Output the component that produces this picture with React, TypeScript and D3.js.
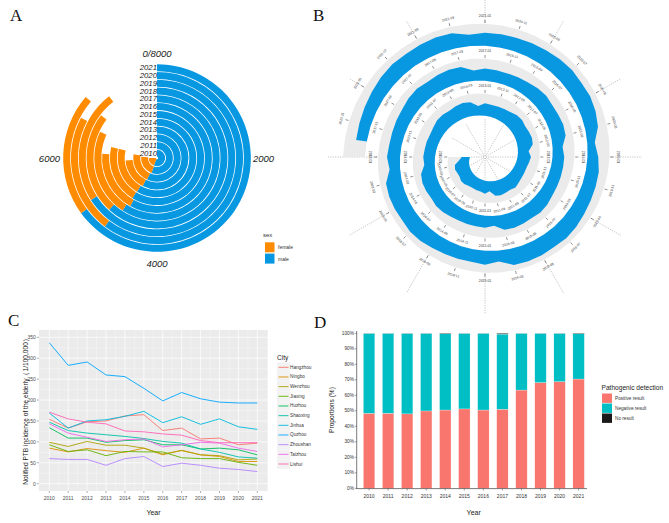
import * as d3 from "d3";

// ---------- data ----------
const years = ["2010", "2011", "2012", "2013", "2014", "2015", "2016", "2017", "2018", "2019", "2020", "2021"];

// A: notified cases by sex
const maleCases = [4500, 4450, 4550, 4600, 4680, 4700, 4650, 4740, 4950, 5280, 4830, 5200];
const femaleCases = [1500, 1650, 1650, 1300, 1620, 1600, 1450, 1810, 1880, 1880, 1790, 1700];
const polarTicks = ["0/8000", "2000", "4000", "6000"];

// B: monthly cases (spiral)
const monthly2010 = [330, 420, 590, 610, 560, 540, 580, 560, 500, 470, 480, 470];
const monthly2011 = [520, 400, 600, 620, 580, 560, 600, 540, 500, 480, 470, 500];
const monthly2012 = [540, 430, 620, 640, 610, 580, 620, 600, 530, 500, 490, 480];
const monthly2013 = [500, 380, 560, 600, 580, 540, 570, 560, 500, 460, 470, 460];
const monthly2014 = [470, 420, 590, 620, 600, 560, 590, 570, 520, 490, 480, 470];
const monthly2015 = [480, 390, 600, 630, 600, 580, 610, 580, 520, 500, 490, 480];
const monthly2016 = [470, 400, 580, 600, 570, 550, 590, 560, 510, 490, 470, 480];
const monthly2017 = [490, 410, 620, 640, 620, 590, 630, 600, 540, 520, 500, 490];
const monthly2018 = [520, 420, 640, 660, 650, 620, 660, 630, 570, 540, 520, 510];
const monthly2019 = [560, 440, 660, 680, 670, 640, 670, 640, 590, 560, 540, 520];
const monthly2020 = [430, 300, 520, 600, 640, 620, 650, 620, 580, 560, 540, 530];
const monthly2021 = [520, 450, 620, 640, 620, 600, 620, 590, 540, 500, 460, 430];
const monthNames = ["01", "02", "03", "04", "05", "06", "07", "08", "09", "10", "11", "12"];

// C: notified incidence per city
const cities = ["Hangzhou", "Ningbo", "Wenzhou", "Jiaxing", "Huzhou", "Shaoxing", "Jinhua", "Quzhou", "Zhoushan", "Taizhou", "Lishui"];
const hangzhou = [154, 133, 148, 150, 162, 165, 127, 133, 107, 109, 93, 97];
const ningbo = [85, 76, 84, 79, 75, 85, 69, 80, 69, 65, 53, 53];
const wenzhou = [99, 89, 101, 92, 92, 85, 71, 79, 69, 67, 57, 59];
const jiaxing = [93, 77, 81, 67, 77, 76, 76, 62, 60, 60, 51, 44];
const huzhou = [134, 109, 109, 99, 103, 105, 93, 93, 83, 85, 81, 69];
const shaoxing = [147, 127, 121, 117, 113, 108, 101, 97, 83, 75, 64, 61];
const jinhua = [169, 133, 150, 153, 161, 173, 146, 160, 142, 155, 136, 130];
const quzhou = [337, 283, 291, 260, 256, 228, 198, 218, 203, 195, 193, 193];
const zhoushan = [60, 58, 58, 44, 60, 65, 41, 49, 44, 37, 34, 29];
const taizhou = [143, 121, 111, 101, 105, 107, 88, 93, 99, 97, 85, 77];
const lishui = [171, 155, 147, 143, 126, 124, 119, 116, 103, 98, 98, 98];
const cityColors = ["#F8766D", "#DB8E00", "#AEA200", "#64B200", "#00BD5C", "#00C1A7", "#00BADE", "#00A6FF", "#B385FF", "#EF67EB", "#FF63B6"];
const incidenceTicks = [0, 50, 100, 150, 200, 250, 300, 350];

// D: pathogenic detection share (%)
const positiveShare = [48.4, 48.4, 48.0, 49.9, 50.5, 51.2, 50.5, 51.0, 63.4, 68.2, 68.8, 70.5];
const noResultShare = [0.1, 0.1, 0.1, 0.1, 0.3, 0.1, 0.1, 0.5, 0.1, 0.1, 0.1, 0.3];
const detectionLabels = ["Positive result", "Negative result", "No result"];
const detectionColors = ["#F8766D", "#00BFC4", "#1A1A1A"];

const SANS = "'Liberation Sans', Arial, sans-serif";
const SERIF = "'Liberation Serif', 'Times New Roman', serif";
const BLUE = "#0898E2";
const ORANGE = "#FF8C00";

// ---------- panel A ----------
function PanelA() {
	const cx = 157;
	const cy = 158;
	const r = d3.scaleLinear().domain([0.4, 12.6]).range([0, 95]);
	const ang = d3.scaleLinear().domain([0, 8000]).range([0, 2 * Math.PI]);
	const arc = d3.arc();
	return (
		<g>
			<g transform={`translate(${cx},${cy})`}>
				{years.map((y, i) => {
					const ir = r(i + 1 - 0.45);
					const or = r(i + 1 + 0.45);
					const m = maleCases[i];
					const total = m + femaleCases[i];
					return (
						<g key={y}>
							<path d={arc({ innerRadius: ir, outerRadius: or, startAngle: 0, endAngle: ang(m) }) || ""} fill={BLUE} />
							<path d={arc({ innerRadius: ir, outerRadius: or, startAngle: ang(m), endAngle: ang(total) }) || ""} fill={ORANGE} />
						</g>
					);
				})}
				{years.map((y, i) => (
					<text key={y} x={0} y={-r(i + 1)} textAnchor="end" dominantBaseline="central" fontSize={7.8} fontStyle="italic" fill="#1a1a1a">
						{y}
					</text>
				))}
			</g>
			<text x={cx} y={53} textAnchor="middle" dominantBaseline="central" fontSize={9.5} fontStyle="italic" fill="#222">{polarTicks[0]}</text>
			<text x={253} y={158} textAnchor="start" dominantBaseline="central" fontSize={9.5} fontStyle="italic" fill="#222">{polarTicks[1]}</text>
			<text x={cx} y={263} textAnchor="middle" dominantBaseline="central" fontSize={9.5} fontStyle="italic" fill="#222">{polarTicks[2]}</text>
			<text x={60} y={158} textAnchor="end" dominantBaseline="central" fontSize={9.5} fontStyle="italic" fill="#222">{polarTicks[3]}</text>
			{/* legend */}
			<text x={263} y={235} fontSize={6} dominantBaseline="central" fill="#333">sex</text>
			<rect x={265} y={242.3} width={9.5} height={10} fill={ORANGE} />
			<text x={278} y={247.3} fontSize={5} dominantBaseline="central" fill="#333">female</text>
			<rect x={265} y={253.6} width={9.5} height={10} fill={BLUE} />
			<text x={278} y={258.6} fontSize={5} dominantBaseline="central" fill="#333">male</text>
		</g>
	);
}

// ---------- panel B ----------
interface SpiralPt {
	a: number;
	r0: number;
	r1: number;
}

function PanelB() {
	const cx = 485;
	const cy = 157;
	const monthly = [
		monthly2010, monthly2011, monthly2012, monthly2013, monthly2014, monthly2015,
		monthly2016, monthly2017, monthly2018, monthly2019, monthly2020, monthly2021,
	].flat();
	const perTurn = 48;
	const base = (t: number) => 15 + 35 * t;
	const angle = (t: number) => ((270 - 360 * t) * Math.PI) / 180;
	const thick = d3.scaleLinear().domain([0, 880]).range([0, 22]);

	const area = d3
		.areaRadial<SpiralPt>()
		.angle((d) => d.a)
		.innerRadius((d) => d.r0)
		.outerRadius((d) => d.r1);

	const track: SpiralPt[] = d3.range(0, 3 * perTurn + 1).map((k) => {
		const t = k / perTurn;
		return { a: angle(t), r0: base(t), r1: base(t) + 22 };
	});
	const band: SpiralPt[] = monthly.map((v, m) => {
		const t = m / perTurn;
		return { a: angle(t), r0: base(t), r1: base(t) + thick(v) };
	});

	const spokes = d3.range(0, 360, 30);
	const labelMonths = monthly.map((_, m) => m).filter((m) => m % 2 === 0);

	return (
		<g transform={`translate(${cx},${cy})`}>
			{spokes.map((deg) => {
				const rad = (deg * Math.PI) / 180;
				const t0 = (((270 - deg) % 360) + 360) % 360 / 360;
				const rIn = Math.min(base(t0) - 1, 38);
				const rOut0 = base(2 + t0) + 23;
				const sx = Math.sin(rad);
				const sy = -Math.cos(rad);
				return (
					<g key={deg} stroke="#8a8a8a" strokeWidth={0.5} strokeDasharray="1.2,1.2">
						<line x1={sx * 3} y1={sy * 3} x2={sx * rIn} y2={sy * rIn} />
						<line x1={sx * rOut0} y1={sy * rOut0} x2={sx * 157} y2={sy * 157} />
					</g>
				);
			})}
			<circle r={1.6} fill="none" stroke="#777" strokeWidth={0.4} />
			<path d={area(track) || ""} fill="#EBEBEB" />
			<path d={area(band) || ""} fill={BLUE} />
			{labelMonths.map((m) => {
				const t = m / perTurn;
				const a = 270 - 360 * t;
				const rad = (a * Math.PI) / 180;
				const sx = Math.sin(rad);
				const sy = -Math.cos(rad);
				const rt0 = base(t) + 22.8;
				const rt1 = base(t) + 25.8;
				const rl = base(t) + 30;
				const norm = ((a % 360) + 360) % 360;
				const rot = norm <= 90 || norm > 270 ? norm : norm - 180;
				const label = `${years[Math.floor(m / 12)]}-${monthNames[m % 12]}`;
				return (
					<g key={m}>
						<line x1={sx * rt0} y1={sy * rt0} x2={sx * rt1} y2={sy * rt1} stroke="#222" strokeWidth={0.5} />
						<text
							transform={`translate(${sx * rl},${sy * rl}) rotate(${rot})`}
							textAnchor="middle"
							dominantBaseline="central"
							fontSize={3.4}
							fill="#333"
						>
							{label}
						</text>
					</g>
				);
			})}
		</g>
	);
}

// ---------- panel C ----------
function PanelC() {
	const series = [hangzhou, ningbo, wenzhou, jiaxing, huzhou, shaoxing, jinhua, quzhou, zhoushan, taizhou, lishui];
	const yearVals = years.map(Number);
	const x = d3.scaleLinear().domain([2010, 2021]).range([49.3, 257.3]);
	const y = d3.scaleLinear().domain([-17.5, 367.5]).range([491, 330]);
	const left = x(2009.45);
	const right = x(2021.55);
	const line = d3
		.line<number>()
		.x((_, i) => x(yearVals[i]))
		.y((d) => y(d));
	const minorY = incidenceTicks.slice(0, -1).map((v, i) => (v + incidenceTicks[i + 1]) / 2);
	const minorX = yearVals.slice(0, -1).map((v) => v + 0.5);
	return (
		<g>
			<rect x={left} y={330} width={right - left} height={161} fill="#EBEBEB" />
			{minorY.map((v) => (
				<line key={`my${v}`} x1={left} x2={right} y1={y(v)} y2={y(v)} stroke="#fff" strokeWidth={0.3} />
			))}
			{minorX.map((v) => (
				<line key={`mx${v}`} x1={x(v)} x2={x(v)} y1={330} y2={491} stroke="#fff" strokeWidth={0.3} />
			))}
			{incidenceTicks.map((v) => (
				<line key={`y${v}`} x1={left} x2={right} y1={y(v)} y2={y(v)} stroke="#fff" strokeWidth={0.7} />
			))}
			{yearVals.map((v) => (
				<line key={`x${v}`} x1={x(v)} x2={x(v)} y1={330} y2={491} stroke="#fff" strokeWidth={0.7} />
			))}
			{series.map((s, i) => (
				<path key={cities[i]} d={line(s) || ""} fill="none" stroke={cityColors[i]} strokeWidth={0.9} />
			))}
			{incidenceTicks.map((v) => (
				<g key={`yt${v}`}>
					<line x1={left - 2} x2={left} y1={y(v)} y2={y(v)} stroke="#333" strokeWidth={0.4} />
					<text x={left - 3} y={y(v)} textAnchor="end" dominantBaseline="central" fontSize={5} fill="#4D4D4D">{v}</text>
				</g>
			))}
			{yearVals.map((v, i) => (
				<g key={`xt${v}`}>
					<line x1={x(v)} x2={x(v)} y1={491} y2={493} stroke="#333" strokeWidth={0.4} />
					<text x={x(v)} y={497.5} textAnchor="middle" dominantBaseline="central" fontSize={5} fill="#4D4D4D">{years[i]}</text>
				</g>
			))}
			<text x={153.5} y={512} textAnchor="middle" dominantBaseline="central" fontSize={7} fill="#222">Year</text>
			<text transform="translate(25,410) rotate(-90)" textAnchor="middle" dominantBaseline="central" fontSize={6.6} fill="#222">
				Notified PTB incidence of the elderly（1/100,000）
			</text>
			{/* legend */}
			<text x={277} y={357} dominantBaseline="central" fontSize={6.5} fill="#222">City</text>
			{cities.map((c, i) => {
				const cyy = 367.3 + i * 9.67;
				return (
					<g key={c}>
						<rect x={277} y={cyy - 4.83} width={13} height={9.67} fill="#F2F2F2" />
						<line x1={278.5} x2={288.5} y1={cyy} y2={cyy} stroke={cityColors[i]} strokeWidth={0.9} />
						<text x={290} y={cyy} dominantBaseline="central" fontSize={4.7} fill="#333">{c}</text>
					</g>
				);
			})}
		</g>
	);
}

// ---------- panel D ----------
interface ShareRow {
	year: string;
	pos: number;
	neg: number;
	none: number;
}

function PanelD() {
	const rows: ShareRow[] = years.map((yr, i) => ({
		year: yr,
		pos: positiveShare[i],
		none: noResultShare[i],
		neg: 100 - positiveShare[i] - noResultShare[i],
	}));
	const stack = d3.stack<ShareRow>().keys(["pos", "neg", "none"]);
	const layers = stack(rows);
	const x = d3.scaleBand().domain(years).range([356.7, 591]).paddingInner(0.4).paddingOuter(0.35);
	const y = d3.scaleLinear().domain([0, 100]).range([488.3, 333.3]);
	const pctTicks = d3.range(0, 101, 10);
	return (
		<g>
			{layers.map((layer, li) => (
				<g key={layer.key} fill={detectionColors[li]}>
					{layer.map((d) => (
						<rect
							key={d.data.year}
							x={x(d.data.year)}
							y={y(d[1])}
							width={x.bandwidth()}
							height={Math.max(0, y(d[0]) - y(d[1]))}
							stroke="#fff"
							strokeWidth={0.25}
						/>
					))}
				</g>
			))}
			<line x1={356.7} x2={356.7} y1={331} y2={488.6} stroke="#222" strokeWidth={0.6} />
			<line x1={356.4} x2={587} y1={488.6} y2={488.6} stroke="#222" strokeWidth={0.6} />
			{pctTicks.map((v) => (
				<g key={v}>
					<line x1={354.7} x2={356.7} y1={y(v)} y2={y(v)} stroke="#222" strokeWidth={0.4} />
					<text x={354} y={y(v)} textAnchor="end" dominantBaseline="central" fontSize={4.8} fill="#333">{`${v}%`}</text>
				</g>
			))}
			{years.map((yr) => {
				const cx = (x(yr) || 0) + x.bandwidth() / 2;
				return (
					<g key={yr}>
						<line x1={cx} x2={cx} y1={488.6} y2={490.6} stroke="#222" strokeWidth={0.4} />
						<text x={cx} y={496} textAnchor="middle" dominantBaseline="central" fontSize={5} fill="#333">{yr}</text>
					</g>
				);
			})}
			<text x={473.7} y={512} textAnchor="middle" dominantBaseline="central" fontSize={7} fill="#222">Year</text>
			<text transform="translate(331,410) rotate(-90)" textAnchor="middle" dominantBaseline="central" fontSize={6.6} fill="#222">
				Proportions (%)
			</text>
			{/* legend */}
			<text x={601.5} y={387} dominantBaseline="central" fontSize={6.6} fill="#222">Pathogenic detection</text>
			{detectionLabels.map((lab, i) => {
				const ky = 393.5 + i * 10;
				return (
					<g key={lab}>
						<rect x={602} y={ky} width={10} height={9.4} fill={detectionColors[i]} />
						<text x={615} y={ky + 4.7} dominantBaseline="central" fontSize={4.7} fill="#333">{lab}</text>
					</g>
				);
			})}
		</g>
	);
}

export default function App() {
	return (
		<svg
			width={669}
			height={523}
			viewBox="0 0 669 523"
			style={{ position: "absolute", left: 0, top: 0, background: "#fff", fontFamily: SANS }}
		>
			<rect width={669} height={523} fill="#fff" />
			<text x={10} y={21} fontFamily={SERIF} fontSize={17} fill="#111">A</text>
			<text x={313} y={21} fontFamily={SERIF} fontSize={17} fill="#111">B</text>
			<text x={8} y={326} fontFamily={SERIF} fontSize={17} fill="#111">C</text>
			<text x={314} y={328} fontFamily={SERIF} fontSize={17} fill="#111">D</text>
			<PanelA />
			<PanelB />
			<PanelC />
			<PanelD />
		</svg>
	);
}
